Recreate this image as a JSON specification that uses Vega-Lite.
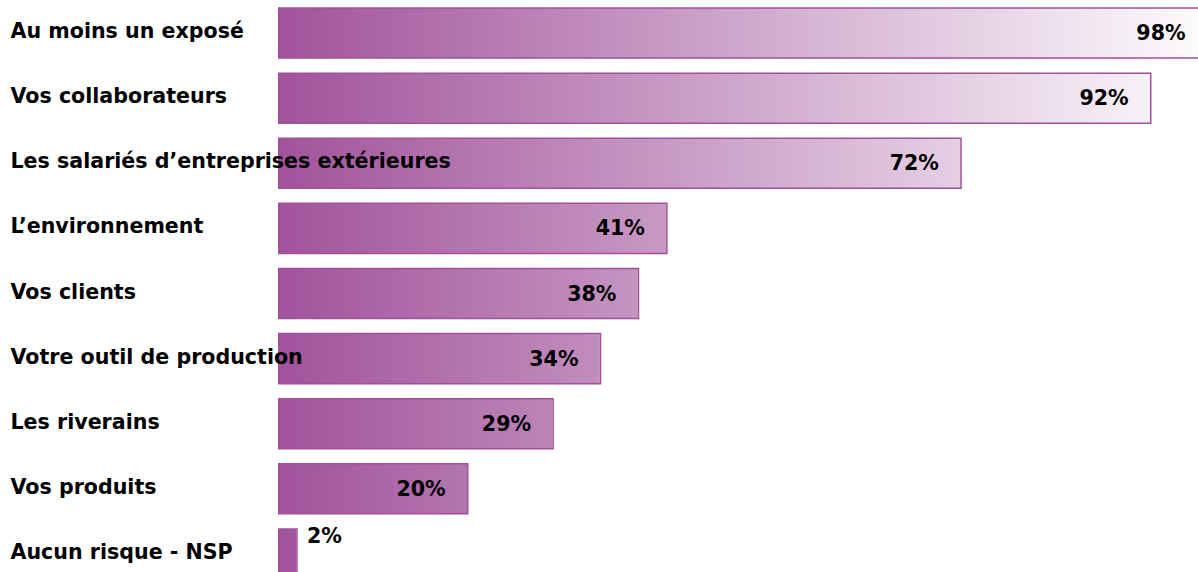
{
  "$schema": "https://vega.github.io/schema/vega-lite/v6.json",
  "autosize": "none",
  "padding": {"left": 278, "top": 0, "right": 0, "bottom": 0},
  "width": 920,
  "height": 572,
  "background": "white",
  "config": {"view": {"stroke": null}},
  "data": {
    "values": [
      {"categorie": "Au moins un exposé", "pct": 98, "label": "98%"},
      {"categorie": "Vos collaborateurs", "pct": 92, "label": "92%"},
      {"categorie": "Les salariés d’entreprises extérieures", "pct": 72, "label": "72%"},
      {"categorie": "L’environnement", "pct": 41, "label": "41%"},
      {"categorie": "Vos clients", "pct": 38, "label": "38%"},
      {"categorie": "Votre outil de production", "pct": 34, "label": "34%"},
      {"categorie": "Les riverains", "pct": 29, "label": "29%"},
      {"categorie": "Vos produits", "pct": 20, "label": "20%"},
      {"categorie": "Aucun risque - NSP", "pct": 2, "label": "2%"}
    ]
  },
  "encoding": {
    "y": {
      "field": "categorie",
      "type": "nominal",
      "sort": null,
      "scale": {"range": [0, 587], "paddingInner": 0.232, "paddingOuter": 0.123},
      "axis": {
        "title": null,
        "domain": false,
        "ticks": false,
        "labelAlign": "left",
        "labelPadding": 268,
        "labelFont": "DejaVu Sans",
        "labelFontWeight": "bold",
        "labelFontSize": 20.6,
        "labelColor": "#000000",
        "labelLimit": 0,
        "labelBaseline": "alphabetic",
        "labelOffset": 5,
        "zindex": 1
      }
    }
  },
  "layer": [
    {
      "mark": {
        "type": "bar",
        "clip": true,
        "fill": {
          "gradient": "linear",
          "x1": 0, "y1": 0, "x2": 1, "y2": 0,
          "stops": [
            {"offset": 0, "color": "#a1539b"},
            {"offset": 1, "color": "#ffffff"}
          ]
        }
      },
      "encoding": {
        "x": {"datum": 0, "type": "quantitative", "scale": {"domain": [0, 96.985], "nice": false, "zero": true}, "axis": null},
        "x2": {"datum": 100}
      }
    },
    {
      "mark": {"type": "bar", "clip": true, "fill": "#ffffff", "stroke": "#ffffff", "strokeWidth": 1.5},
      "encoding": {
        "x": {"field": "pct", "type": "quantitative"},
        "x2": {"datum": 100}
      }
    },
    {
      "mark": {"type": "bar", "clip": true, "fill": "transparent", "stroke": "#a0509a", "strokeWidth": 1.5},
      "encoding": {
        "x": {"field": "pct", "type": "quantitative"},
        "x2": {"datum": 0}
      }
    },
    {
      "transform": [{"filter": "datum.pct >= 5"}],
      "mark": {"type": "text", "align": "right", "baseline": "alphabetic", "dx": -22, "dy": 7, "font": "DejaVu Sans", "fontWeight": "bold", "fontSize": 20.6, "color": "#000000"},
      "encoding": {
        "x": {"field": "pct", "type": "quantitative"},
        "text": {"field": "label", "type": "nominal"}
      }
    },
    {
      "transform": [{"filter": "datum.pct < 5"}],
      "mark": {"type": "text", "align": "left", "baseline": "alphabetic", "dx": 10, "dy": -11, "font": "DejaVu Sans", "fontWeight": "bold", "fontSize": 20.6, "color": "#000000"},
      "encoding": {
        "x": {"field": "pct", "type": "quantitative"},
        "text": {"field": "label", "type": "nominal"}
      }
    }
  ]
}
